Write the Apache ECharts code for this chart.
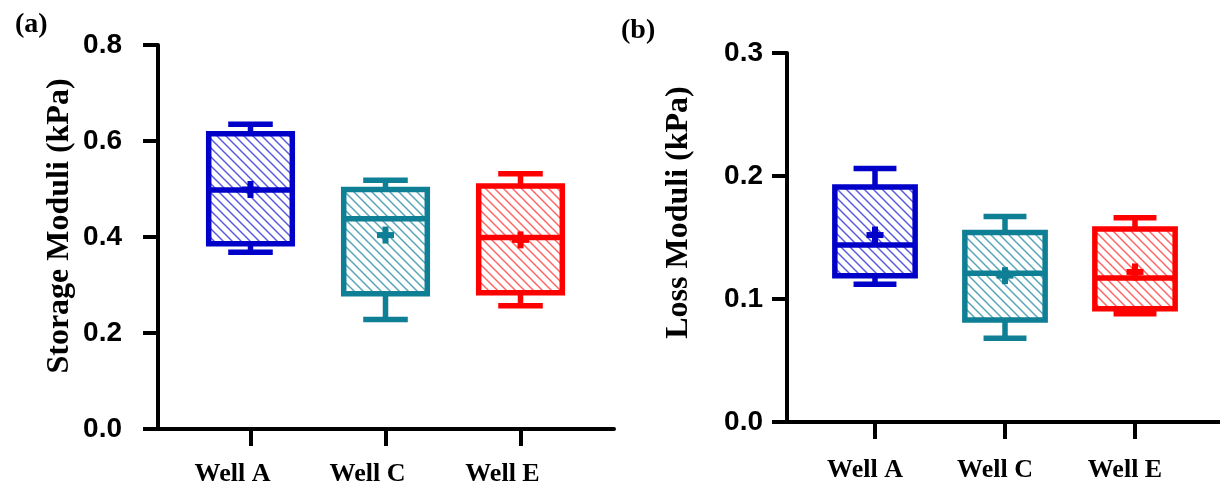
<!DOCTYPE html>
<html><head><meta charset="utf-8">
<script src="https://cdn.jsdelivr.net/npm/echarts@6/dist/echarts.min.js"></script>
<style>html,body{margin:0;padding:0;background:#fff}#c{width:1220px;height:489px}</style>
</head><body><div id="c"></div>
<script>
// ---- data ----
const categories = ['Well A', 'Well C', 'Well E'];
// [lower whisker, Q1, median, Q3, upper whisker]
const storageBoxes = [
  [0.368, 0.386, 0.498, 0.615, 0.635],
  [0.228, 0.282, 0.438, 0.499, 0.518],
  [0.257, 0.284, 0.399, 0.506, 0.532]
];
const storageMeans = [0.499, 0.404, 0.394];
const lossBoxes = [
  [0.112, 0.119, 0.144, 0.191, 0.206],
  [0.068, 0.083, 0.121, 0.154, 0.167],
  [0.088, 0.092, 0.117, 0.157, 0.166]
];
const lossMeans = [0.152, 0.119, 0.122];
const storageTickStep = 0.2, storageMax = 0.8;
const lossTickStep = 0.1, lossMax = 0.3;
const colors = ['#0000C8', '#0E7F94', '#FF0000'];
const hatchColors = ['rgba(50,50,215,0.8)', 'rgba(30,135,160,0.75)', 'rgba(255,50,50,0.75)'];

// ---- helpers ----
function hatch(color) {
  const s = 9;
  const cv = document.createElement('canvas');
  cv.width = s; cv.height = s;
  const g = cv.getContext('2d');
  g.strokeStyle = color; g.lineWidth = 1.5;
  g.beginPath();
  g.moveTo(-2, -2); g.lineTo(s + 2, s + 2);
  g.moveTo(-2, s - 2); g.lineTo(2, s + 2);
  g.moveTo(s - 2, -2); g.lineTo(s + 2, 2);
  g.stroke();
  return { image: cv, repeat: 'repeat' };
}
const patterns = hatchColors.map(hatch);

function buildData(boxes, means) {
  return boxes.map((b, i) => [i].concat(b, [means[i]]));
}

function renderItem(params, api) {
  const i = api.value(0);
  const c = colors[i];
  const lw = 5.5;
  const band = api.size([1, 0])[0];
  const outer = band * 0.66;
  const w = outer - lw;
  const cx = api.coord([i, 0])[0];
  const y = k => api.coord([i, api.value(k)])[1];
  const yLo = y(1), yQ1 = y(2), yMed = y(3), yQ3 = y(4), yHi = y(5), yMean = y(6);
  const capHalf = outer * 0.25;
  const ls = { stroke: c, lineWidth: lw, fill: null };
  const plus = 8.5;
  return {
    type: 'group',
    children: [
      { type: 'line', shape: { x1: cx, y1: yQ3, x2: cx, y2: yHi }, style: ls },
      { type: 'line', shape: { x1: cx, y1: yQ1, x2: cx, y2: yLo }, style: ls },
      { type: 'line', shape: { x1: cx - capHalf, y1: yHi, x2: cx + capHalf, y2: yHi }, style: ls },
      { type: 'line', shape: { x1: cx - capHalf, y1: yLo, x2: cx + capHalf, y2: yLo }, style: ls },
      { type: 'rect', shape: { x: cx - w / 2, y: yQ3, width: w, height: yQ1 - yQ3 },
        style: { fill: patterns[i], stroke: c, lineWidth: lw } },
      { type: 'line', shape: { x1: cx - w / 2, y1: yMed, x2: cx + w / 2, y2: yMed }, style: ls },
      { type: 'line', shape: { x1: cx - plus, y1: yMean, x2: cx + plus, y2: yMean }, style: { stroke: c, lineWidth: 6 } },
      { type: 'line', shape: { x1: cx, y1: yMean - plus, x2: cx, y2: yMean + plus }, style: { stroke: c, lineWidth: 6 } }
    ]
  };
}

const serif = '"Liberation Serif", "Times New Roman", serif';
const sans = '"Liberation Sans", Arial, sans-serif';

function frameAxes(gi, max, step, name, namePad, nameGap, labelMargin) {
  return {
    x: { type: 'value', gridIndex: gi, min: 0, max: 1, axisLine: { show: true, onZero: false, lineStyle: { color: '#000', width: 4 } },
         axisTick: { show: false }, axisLabel: { show: false }, splitLine: { show: false } },
    y: { type: 'value', gridIndex: gi, min: 0, max: max, interval: step,
         axisLine: { show: true, lineStyle: { color: '#000', width: 4 } },
         axisTick: { show: true, length: 15, lineStyle: { color: '#000', width: 4 } },
         axisLabel: { color: '#000', fontFamily: sans, fontWeight: 'bold', fontSize: 28, margin: labelMargin,
                      formatter: v => v.toFixed(1) },
         splitLine: { show: false },
         name: name, nameLocation: 'middle', nameRotate: 90, nameGap: nameGap,
         nameTextStyle: { color: '#000', fontFamily: serif, fontWeight: 'bold', fontSize: 32, padding: [0, 0, 0, namePad] } }
  };
}
function catAxes(gi, max, shift, margin) {
  return {
    x: { type: 'category', gridIndex: gi, data: categories,
         axisLine: { show: false }, axisTick: { show: true, alignWithLabel: true, length: 17, lineStyle: { color: '#000', width: 4 } },
         axisLabel: { color: '#000', fontFamily: serif, fontWeight: 'bold', fontSize: 26, margin: margin, padding: [0, shift, 0, 0] } },
    y: { type: 'value', gridIndex: gi, min: 0, max: max, show: false }
  };
}

const fa = frameAxes(0, storageMax, storageTickStep, 'Storage Moduli (kPa)', 22, 82, 36);
const ca = catAxes(1, storageMax, 36, 32);
const fb = frameAxes(2, lossMax, lossTickStep, 'Loss Moduli (kPa)', 50, 92, 24);
const cb = catAxes(3, lossMax, 20, 35);

const option = {
  animation: false,
  backgroundColor: '#fff',
  title: [
    { text: '(a)', left: 10, top: 6, textStyle: { fontFamily: serif, fontWeight: 'bold', fontSize: 28, color: '#000' } },
    { text: '(b)', left: 616, top: 12, textStyle: { fontFamily: serif, fontWeight: 'bold', fontSize: 28, color: '#000' } }
  ],
  grid: [
    { left: 158, top: 45, width: 456, height: 384 },
    { left: 183, top: 45, width: 405, height: 384 },
    { left: 787, top: 53, width: 433, height: 369 },
    { left: 810, top: 53, width: 390, height: 369 }
  ],
  xAxis: [fa.x, ca.x, fb.x, cb.x],
  yAxis: [fa.y, ca.y, fb.y, cb.y],
  series: [
    { type: 'custom', xAxisIndex: 1, yAxisIndex: 1, renderItem: renderItem,
      encode: { x: 0, y: [1, 2, 3, 4, 5, 6] }, data: buildData(storageBoxes, storageMeans), clip: false },
    { type: 'custom', xAxisIndex: 3, yAxisIndex: 3, renderItem: renderItem,
      encode: { x: 0, y: [1, 2, 3, 4, 5, 6] }, data: buildData(lossBoxes, lossMeans), clip: false }
  ]
};
const chart = echarts.init(document.getElementById('c'), null, { renderer: 'canvas' });
chart.setOption(option);
</script>
</body></html>
